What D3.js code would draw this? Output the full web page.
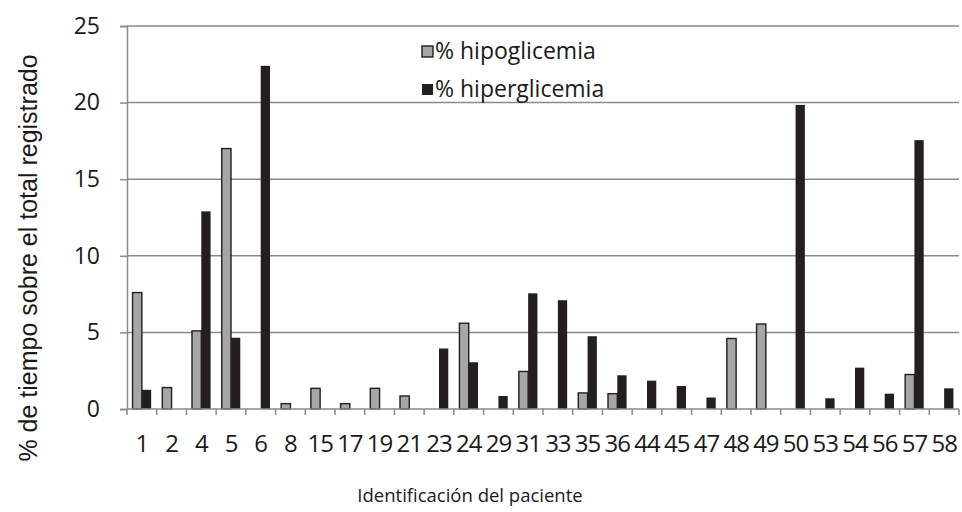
<!DOCTYPE html>
<html>
<head>
<meta charset="utf-8">
<script src="https://cdn.jsdelivr.net/npm/d3@7"></script>
<style>
  body { margin: 0; background: #fff; }
  svg text { fill: #1a1a1a; }
</style>
</head>
<body>
<svg id="chart"></svg>
<script>
// patient ids on the x axis
var patients = ["1","2","4","5","6","8","15","17","19","21","23","24","29","31","33",
                "35","36","44","45","47","48","49","50","53","54","56","57","58"];

// % of time in hypoglycemia, per patient
var hipo = [7.6,1.4,5.1,17.0,0,0.35,1.35,0.35,1.35,0.85,0,5.6,0,2.45,0,
            1.05,1.0,0,0,0,4.6,5.55,0,0,0,0,2.25,0];

// % of time in hyperglycemia, per patient
var hiper = [1.25,0,12.9,4.65,22.4,0,0,0,0,0,3.95,3.05,0.85,7.55,7.1,
             4.75,2.2,1.85,1.5,0.75,0,0,19.85,0.7,2.7,1.0,17.55,1.35];

var seriesNames = ["% hipoglicemia", "% hiperglicemia"];
var seriesKeys = ["hipo", "hiper"];
var yTicks = [0, 5, 10, 15, 20, 25];

var width = 962, height = 512;
var margin = {top: 26, right: 3, bottom: 103, left: 127};
var innerW = width - margin.left - margin.right,
    innerH = height - margin.top - margin.bottom;

var colors = {hipo: "#a6a6a8", hiper: "#231f20"};

var rows = patients.map(function(p, i) {
  return {id: p, hipo: hipo[i], hiper: hiper[i]};
});

var svg = d3.select("#chart")
  .attr("width", width)
  .attr("height", height);

var g = svg.append("g")
  .attr("transform", "translate(" + margin.left + "," + margin.top + ")");

var x = d3.scaleBand().domain(patients).range([0, innerW]);
var x1 = d3.scaleBand().domain(seriesKeys).range([0, x.bandwidth()])
  .paddingInner(0).paddingOuter(0.6);
var y = d3.scaleLinear().domain([0, 25]).range([innerH, 0]);

// horizontal grid
g.append("g").selectAll("line")
  .data(yTicks.filter(function(d) { return d > 0; }))
  .enter().append("line")
    .attr("x1", 0).attr("x2", innerW)
    .attr("y1", function(d) { return y(d); })
    .attr("y2", function(d) { return y(d); })
    .attr("stroke", "#8a8a8a")
    .attr("stroke-width", 1.5);

// bars
var groups = g.append("g").selectAll("g")
  .data(rows)
  .enter().append("g")
    .attr("transform", function(d) { return "translate(" + x(d.id) + ",0)"; });

groups.selectAll("rect")
  .data(function(d) {
    return seriesKeys.map(function(k) { return {key: k, value: d[k]}; })
      .filter(function(e) { return e.value > 0; });
  })
  .enter().append("rect")
    .attr("x", function(d) { return x1(d.key); })
    .attr("width", x1.bandwidth())
    .attr("y", function(d) { return y(d.value); })
    .attr("height", function(d) { return innerH - y(d.value); })
    .attr("fill", function(d) { return colors[d.key]; })
    .attr("stroke", "#231f20")
    .attr("stroke-width", function(d) { return d.key == "hipo" ? 1.4 : 0; });

// y axis
var yAxis = d3.axisLeft(y).tickValues(yTicks).tickSize(7).tickPadding(20);
var ya = g.append("g").call(yAxis);
ya.select(".domain").attr("stroke", "#8a8a8a").attr("stroke-width", 1.5);
ya.selectAll(".tick line").attr("stroke", "#8a8a8a").attr("stroke-width", 1.5);
ya.selectAll("text")
  .attr("font-family", "'Open Sans', sans-serif")
  .attr("font-size", 23)
  .attr("fill", "#1a1a1a");

// x axis line + boundary ticks
g.append("line")
  .attr("x1", 0).attr("x2", innerW)
  .attr("y1", innerH).attr("y2", innerH)
  .attr("stroke", "#8a8a8a").attr("stroke-width", 1.5);

g.append("g").selectAll("line")
  .data(d3.range(patients.length + 1))
  .enter().append("line")
    .attr("x1", function(i) { return i * x.step(); })
    .attr("x2", function(i) { return i * x.step(); })
    .attr("y1", innerH).attr("y2", innerH + 6)
    .attr("stroke", "#8a8a8a").attr("stroke-width", 1.5);

g.append("g").selectAll("text")
  .data(patients)
  .enter().append("text")
    .attr("x", function(d) { return x(d) + x.bandwidth() / 2; })
    .attr("y", innerH + 43)
    .attr("text-anchor", "middle")
    .attr("font-family", "'Open Sans', sans-serif")
    .attr("font-size", 24)
    .attr("letter-spacing", -1)
    .text(function(d) { return d; });

// axis titles
svg.append("text")
  .attr("x", 470).attr("y", 502)
  .attr("text-anchor", "middle")
  .attr("font-family", "'Open Sans', sans-serif")
  .attr("font-size", 18.5)
  .text("Identificación del paciente");

svg.append("text")
  .attr("transform", "translate(37,258) rotate(-90)")
  .attr("text-anchor", "middle")
  .attr("font-family", "'Liberation Sans', Arial, sans-serif")
  .attr("font-size", 25)
  .text("% de tiempo sobre el total registrado");

// legend
var legend = svg.append("g").attr("transform", "translate(422,46)");
var li = legend.selectAll("g")
  .data(seriesKeys)
  .enter().append("g")
    .attr("transform", function(d, i) { return "translate(0," + (i * 38) + ")"; });

li.append("rect")
  .attr("width", 11).attr("height", 11)
  .attr("fill", function(d) { return colors[d]; })
  .attr("stroke", "#231f20")
  .attr("stroke-width", function(d) { return d == "hipo" ? 1.4 : 0; });

li.append("text")
  .attr("x", 13).attr("y", 13)
  .attr("font-family", "'Open Sans', sans-serif")
  .attr("font-size", 23)
  .text(function(d, i) { return seriesNames[i]; });
</script>
</body>
</html>
